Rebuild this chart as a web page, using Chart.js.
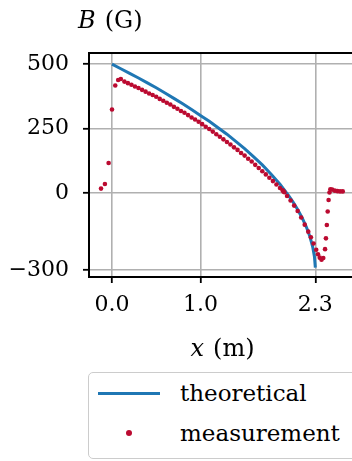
<!DOCTYPE html>
<html>
<head>
<meta charset="utf-8">
<script src="https://cdn.jsdelivr.net/npm/chart.js@4.4.1/dist/chart.umd.min.js"></script>
<style>
  html, body { margin: 0; padding: 0; background: #fff; overflow: hidden; }
  #wrap { position: relative; width: 362px; height: 461px; }
  #legend {
    position: absolute; left: 88px; top: 372px; width: 290px; height: 85px;
    border: 1.5px solid #cccccc; border-radius: 5px; background: #fff;
    font-family: "DejaVu Serif", serif; font-size: 23px; color: #000;
  }
  .row { position: absolute; left: 0; height: 30px; }
  .row span { position: absolute; left: 91px; top: 0; line-height: 30px; white-space: nowrap; }
  .swatch-line { position: absolute; left: 9px; top: 14px; width: 62px; height: 3px; background: #1f77b4; }
  .swatch-dot { position: absolute; left: 37px; top: 12px; width: 6px; height: 6px; border-radius: 50%; background: #bb0a30; }
</style>
</head>
<body>
<div id="wrap">
  <canvas id="chart" width="362" height="461"></canvas>
  <div id="legend">
    <div class="row" style="top:5px"><div class="swatch-line"></div><span>theoretical</span></div>
    <div class="row" style="top:45px"><div class="swatch-dot"></div><span>measurement</span></div>
  </div>
</div>
<script>
// theoretical curve
const theoX = [0, 0.1, 0.2, 0.3, 0.4, 0.5, 0.6, 0.7, 0.8, 0.9, 1.0, 1.1, 1.2, 1.3, 1.4, 1.5, 1.6, 1.7, 1.8, 1.9, 2.0, 2.05, 2.1, 2.15, 2.2, 2.24, 2.27, 2.29, 2.3];
const theoB = [500, 482, 464, 446, 427, 408, 388, 367, 346, 324, 301, 278, 253, 228, 200, 172, 141, 109, 73, 34, -11, -36, -64, -96, -133, -171, -209, -247, -290];

// measured points
const measX = [-0.124, -0.08, -0.038, 0, 0.037, 0.07,
  0.10, 0.14, 0.18, 0.22, 0.26, 0.30, 0.34, 0.38, 0.42, 0.46, 0.50, 0.54, 0.58, 0.62, 0.66, 0.70,
  0.74, 0.78, 0.82, 0.86, 0.90, 0.94, 0.98, 1.02, 1.06, 1.10, 1.14, 1.18, 1.22, 1.26, 1.30,
  1.34, 1.38, 1.42, 1.46, 1.50, 1.54, 1.58, 1.62, 1.66, 1.70, 1.74, 1.78, 1.82, 1.86, 1.90,
  1.93, 1.94, 1.95, 1.98, 2.02, 2.06, 2.10, 2.14, 2.18, 2.22, 2.25, 2.28, 2.31, 2.33, 2.35,
  2.37, 2.39, 2.41, 2.42, 2.43, 2.44, 2.45, 2.46, 2.47, 2.49, 2.52, 2.55, 2.58, 2.61];
const measB = [17, 35, 116, 324, 417, 438,
  442, 432, 426, 420, 413, 407, 400, 393, 386, 380, 373, 365, 358, 350, 343, 334,
  327, 318, 311, 302, 293, 285, 276, 267, 257, 248, 238, 228, 218, 208, 198,
  188, 177, 167, 155, 145, 133, 122, 109, 97, 84, 72, 59, 46, 33, 19,
  10, 6, 3, -12, -29, -49, -70, -95, -123, -150, -172, -196, -220, -238, -251,
  -259, -252, -218, -176, -124, -72, -27, 2, 14, 13, 9, 7, 6, 6];

// axis ticks
const xTicks = [0.0, 1.0, 2.3];
const yTicks = [500, 250, 0, -300];

const FONT = '"DejaVu Serif", serif';

// draws the top frame line and the two axis labels (symbol italic, unit upright)
function drawLabel(ctx, sym, unit, x, y, centre) {
  ctx.font = 'italic 24px ' + FONT;
  const ws = ctx.measureText(sym).width;
  ctx.font = '24px ' + FONT;
  const wu = ctx.measureText(unit).width;
  const gap = 9;
  const x0 = centre ? x - (ws + gap + wu) / 2 : x;
  ctx.font = 'italic 24px ' + FONT;
  ctx.fillText(sym, x0, y);
  ctx.font = '24px ' + FONT;
  ctx.fillText(unit, x0 + ws + gap, y);
}

const frameAndLabels = {
  id: 'frameAndLabels',
  afterDraw(chart) {
    const ctx = chart.ctx;
    const a = chart.chartArea;
    ctx.save();
    ctx.strokeStyle = '#000';
    ctx.lineWidth = 2;
    ctx.beginPath();
    ctx.moveTo(a.left - 1, a.top);
    ctx.lineTo(a.right + 1, a.top);
    ctx.moveTo(a.right, a.top);
    ctx.lineTo(a.right, a.bottom);
    ctx.stroke();

    ctx.fillStyle = '#000';
    ctx.textBaseline = 'alphabetic';
    ctx.textAlign = 'left';
    drawLabel(ctx, 'B', '(G)', 78, 28, false);
    drawLabel(ctx, 'x', '(m)', (a.left + a.right) / 2, 356, true);
    ctx.restore();
  }
};

new Chart(document.getElementById('chart').getContext('2d'), {
  type: 'scatter',
  data: {
    datasets: [{
      label: 'theoretical',
      data: theoX.map((x, i) => ({ x: x, y: theoB[i] })),
      showLine: true,
      borderColor: '#1f77b4',
      borderWidth: 3,
      pointRadius: 0,
      tension: 0,
      order: 2
    }, {
      label: 'measurement',
      data: measX.map((x, i) => ({ x: x, y: measB[i] })),
      showLine: false,
      backgroundColor: '#bb0a30',
      borderWidth: 0,
      pointRadius: 2.3,
      order: 1
    }]
  },
  options: {
    responsive: false,
    animation: false,
    layout: { padding: { top: 53, right: 6, bottom: 124, left: 0 } },
    plugins: {
      legend: { display: false },
      tooltip: { enabled: false }
    },
    scales: {
      x: {
        type: 'linear',
        min: -0.26,
        max: 2.76,
        afterBuildTicks: s => { s.ticks = xTicks.map(v => ({ value: v })); },
        afterFit: s => { s.height = 60; },
        grid: { color: '#b0b0b0', lineWidth: 1.6, tickLength: 6, tickColor: '#000', tickWidth: 1.8 },
        border: { color: '#000', width: 2 },
        ticks: {
          color: '#000', padding: 9, maxRotation: 0, autoSkip: false,
          font: { family: FONT, size: 22 },
          callback: v => v.toFixed(1)
        }
      },
      y: {
        type: 'linear',
        min: -326,
        max: 543,
        afterBuildTicks: s => { s.ticks = yTicks.map(v => ({ value: v })); },
        afterFit: s => { s.width = 89; },
        grid: { color: '#b0b0b0', lineWidth: 1.6, tickLength: 6, tickColor: '#000', tickWidth: 1.8 },
        border: { color: '#000', width: 2 },
        ticks: {
          color: '#000', padding: 14,
          font: { family: FONT, size: 22 },
          callback: v => (v < 0 ? '\u2212' + Math.abs(v) : String(v))
        }
      }
    }
  },
  plugins: [frameAndLabels]
});
</script>
</body>
</html>
